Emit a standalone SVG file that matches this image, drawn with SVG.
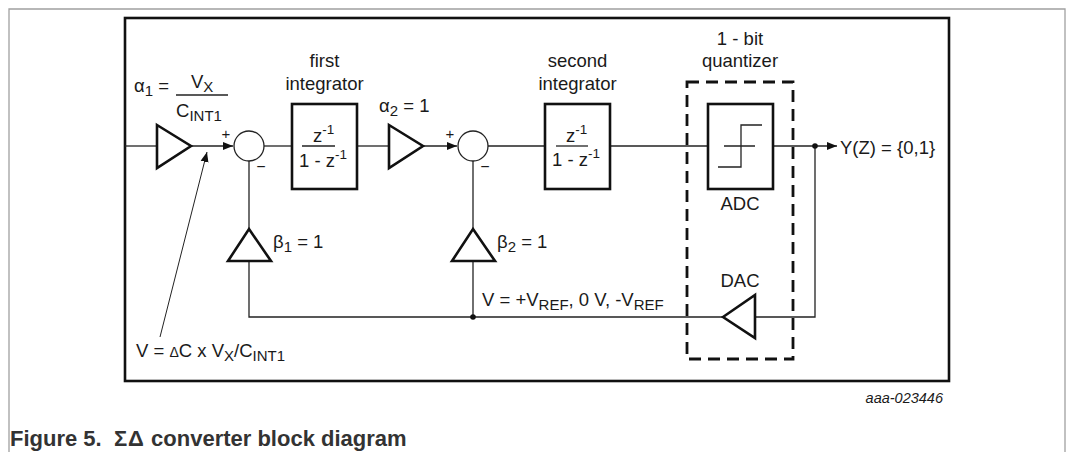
<svg xmlns="http://www.w3.org/2000/svg" width="1066" height="452" viewBox="0 0 1066 452">
<style>
text{font-family:"Liberation Sans",Arial,sans-serif;font-size:18.5px;fill:#1a1a1a}
.sub{font-size:15px}
.sup{font-size:13.5px}
.blk{fill:none;stroke:#111;stroke-width:2.6}
.ln{fill:none;stroke:#222;stroke-width:1.3}
.tri{fill:#fff;stroke:#111;stroke-width:2.6;stroke-linejoin:miter}
.mid{text-anchor:middle}
</style>
<defs>
<marker id="arr" viewBox="0 0 10 10" refX="10" refY="5" markerWidth="10" markerHeight="10" markerUnits="userSpaceOnUse" orient="auto">
<path d="M0,1 L10,5 L0,9 Z" fill="#111"/>
</marker>
</defs>
<rect x="0" y="0" width="1066" height="452" fill="#fff"/>
<path d="M9,452 V9 H1065 V452" fill="none" stroke="#a0a0a0" stroke-width="1.3"/>
<rect x="125" y="18" width="824" height="363" fill="none" stroke="#111" stroke-width="2.6"/>

<g id="connectors">
<line class="ln" x1="125" y1="146" x2="157" y2="146"/>
<line class="ln" x1="191" y1="146" x2="233" y2="146" marker-end="url(#arr)"/>
<line class="ln" x1="264" y1="146" x2="292" y2="146"/>
<line class="ln" x1="357" y1="146" x2="389" y2="146"/>
<line class="ln" x1="423" y1="146" x2="457" y2="146" marker-end="url(#arr)"/>
<line class="ln" x1="488" y1="146" x2="545" y2="146"/>
<line class="ln" x1="610" y1="146" x2="708" y2="146"/>
<line class="ln" x1="773" y1="146" x2="837" y2="146" marker-end="url(#arr)"/>
<polyline class="ln" points="815,146 815,317 755,317"/>
<polyline class="ln" points="723,317 249,317 249,261"/>
<line class="ln" x1="249" y1="229" x2="249" y2="161"/>
<line class="ln" x1="473" y1="317" x2="473" y2="261"/>
<line class="ln" x1="473" y1="229" x2="473" y2="161"/>
<circle cx="815" cy="146" r="2.8" fill="#111"/>
<circle cx="473" cy="317" r="2.8" fill="#111"/>
<line x1="160" y1="337" x2="207" y2="152" stroke="#222" stroke-width="1" marker-end="url(#arr)"/>
</g>

<g id="gain-alpha1">
<polygon class="tri" points="157,125 191,146 157,168"/>
<text x="134" y="92">α<tspan class="sub" dy="4">1</tspan><tspan dy="-4"> =</tspan></text>
<line x1="176" y1="95" x2="228" y2="95" stroke="#222" stroke-width="1.3"/>
<text x="191" y="88">V<tspan class="sub" dy="4">X</tspan></text>
<text x="176" y="117">C<tspan class="sub" dy="4">INT1</tspan></text>
</g>

<g id="sum1">
<circle cx="249" cy="146" r="15" fill="#fff" stroke="#222" stroke-width="1.3"/>
<text x="226" y="139" class="mid" style="font-size:15px">+</text>
<text x="261" y="172" class="mid" style="font-size:16px">−</text>
</g>

<g id="integrator1">
<rect class="blk" x="292" y="104" width="65" height="85" fill="#fff"/>
<text x="324.5" y="67" class="mid">first</text>
<text x="324.5" y="90" class="mid">integrator</text>
<text x="313" y="142">z<tspan class="sup" dy="-8">-1</tspan></text>
<line x1="302" y1="146" x2="335" y2="146" stroke="#222" stroke-width="1.3"/>
<text x="299" y="167">1 - z<tspan class="sup" dy="-8">-1</tspan></text>
</g>

<g id="gain-alpha2">
<polygon class="tri" points="389,125 423,146 389,168"/>
<text x="379" y="112">α<tspan class="sub" dy="4">2</tspan><tspan dy="-4"> = 1</tspan></text>
</g>

<g id="sum2">
<circle cx="473" cy="146" r="15" fill="#fff" stroke="#222" stroke-width="1.3"/>
<text x="450" y="139" class="mid" style="font-size:15px">+</text>
<text x="485" y="172" class="mid" style="font-size:16px">−</text>
</g>

<g id="integrator2">
<rect class="blk" x="545" y="104" width="65" height="85" fill="#fff"/>
<text x="577.5" y="67" class="mid">second</text>
<text x="577.5" y="90" class="mid">integrator</text>
<text x="566" y="142">z<tspan class="sup" dy="-8">-1</tspan></text>
<line x1="556" y1="146" x2="588" y2="146" stroke="#222" stroke-width="1.3"/>
<text x="552" y="166">1 - z<tspan class="sup" dy="-8">-1</tspan></text>
</g>

<g id="quantizer">
<rect x="687" y="82" width="106" height="277" fill="none" stroke="#111" stroke-width="2.8" stroke-dasharray="12 7"/>
<text x="740" y="45" class="mid">1 - bit</text>
<text x="740" y="67" class="mid">quantizer</text>
</g>

<g id="adc">
<rect class="blk" x="708" y="104" width="65" height="85" fill="#fff"/>
<path d="M724,146 H755 M718,167 H741 V125 H762" fill="none" stroke="#222" stroke-width="1.3"/>
<text x="740" y="210" class="mid">ADC</text>
</g>

<g id="dac">
<polygon class="tri" points="723,317 755,295 755,338"/>
<text x="740" y="287" class="mid">DAC</text>
</g>

<g id="gain-beta1">
<polygon class="tri" points="249,229 271,261 228,261"/>
<text x="273" y="248">β<tspan class="sub" dy="4">1</tspan><tspan dy="-4"> = 1</tspan></text>
</g>

<g id="gain-beta2">
<polygon class="tri" points="473,229 495,261 452,261"/>
<text x="497" y="248">β<tspan class="sub" dy="4">2</tspan><tspan dy="-4"> = 1</tspan></text>
</g>

<g id="labels">
<text x="840" y="154">Y(Z) = {0,1}</text>
<text x="482" y="306">V = +V<tspan class="sub" dy="4">REF</tspan><tspan dy="-4">, 0 V, -V</tspan><tspan class="sub" dy="4">REF</tspan></text>
<text x="136" y="357">V = <tspan style="font-size:14px">Δ</tspan>C x V<tspan class="sub" dy="4">X</tspan><tspan dy="-4">/C</tspan><tspan class="sub" dy="4">INT1</tspan></text>
<text x="943" y="403" style="font-size:14.5px;font-style:italic;text-anchor:end">aaa-023446</text>
<text x="10" y="446" xml:space="preserve" style="font-size:22px;font-weight:bold;fill:#333">Figure 5.  <tspan style="letter-spacing:1px">ΣΔ</tspan> converter block diagram</text>
</g>
</svg>
